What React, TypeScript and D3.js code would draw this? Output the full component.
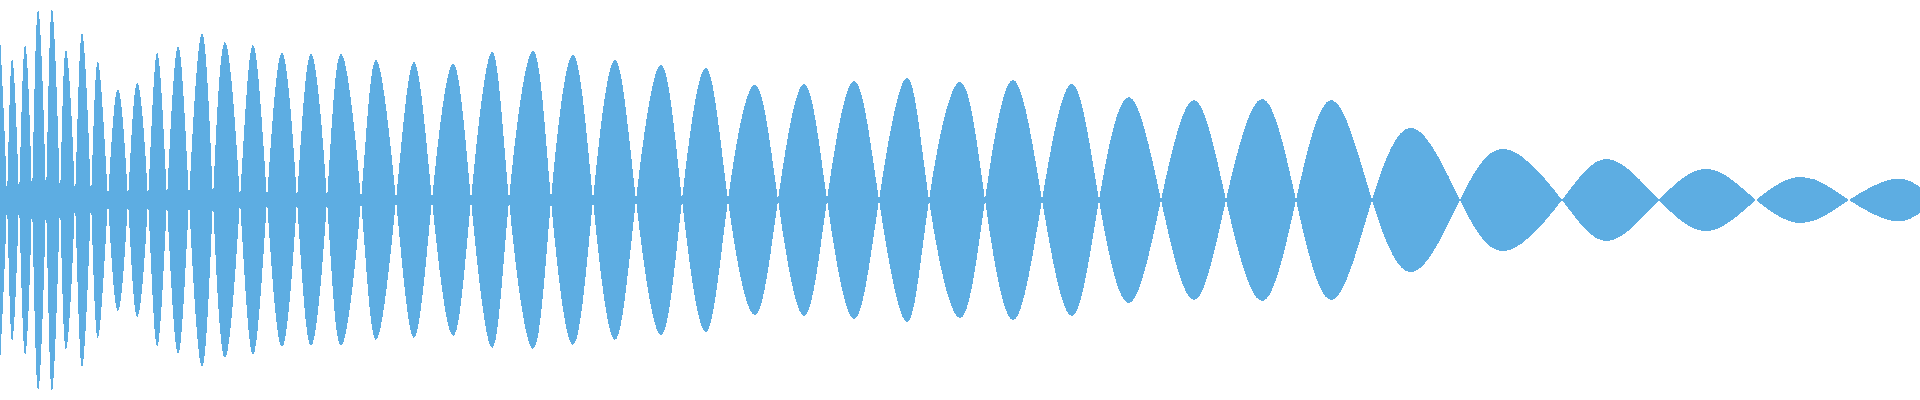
import React from "react";
import * as d3 from "d3";

// Sample positions (sample index) of zero crossings and lobe peaks
const samplePos = [
  0, 7, 12, 19, 25, 32, 38, 46, 52, 60, 66, 75, 82, 91, 98, 108, 118, 128, 137, 148,
  157, 167, 178, 189, 202, 213, 225, 240, 253, 267, 282, 297, 311, 327, 341, 361,
  376, 396, 414, 432, 453, 471, 492, 509, 533, 551, 573, 593, 615, 636, 661, 682,
  706, 728, 755, 778, 804, 827, 854, 879, 907, 929, 960, 985, 1013, 1042, 1072,
  1099, 1129, 1161, 1194, 1226, 1262, 1296, 1332, 1372, 1413, 1460, 1505,
  1562, 1608, 1659, 1708, 1756, 1803, 1849, 1893, 1920,
];

// Signed amplitude (percent of full scale) at each sample position
const amplitude = [
  82.5, 0, -70.5, 0, 77.5, 0, -95, 0, 95.5, 0, -75, 0, 83.5, 0, -69, 0, 55.5, 0, -58.5, 0,
  73.5, 0, -77, 0, 83.5, 0, -79, 0, 77.5, 0, -73.5, 0, 73, 0, -73, 0,
  70, 0, -69, 0, 68, 0, -74, 0, 74.5, 0, -72.5, 0, 70, 0, -67.5, 0,
  66, 0, -57.5, 0, 58, 0, -59.5, 0, 61, 0, -59, 0, 60, 0, -58,
  0, 51.5, 0, -50, 0, 50.5, 0, -50, 0, 36, 0, -25.5,
  0, 20.5, 0, -15.5, 0, 11.5, 0, -10.5, -6.5,
];

// Residual high-frequency band around the centre line in the dense early part
const floorPos = [0, 240, 330, 400, 460];
const floorAmp = [4, 4, 3, 1.5, 0];

const WIDTH = 1920;
const HEIGHT = 400;
const COLOR = "#5DADE2";

export default function App() {
  const x = d3.scaleLinear().domain([0, 1920]).range([0, WIDTH]);
  const y = d3.scaleLinear().domain([-100, 100]).range([HEIGHT, 0]);

  const idx = d3.range(samplePos.length);
  const area = d3
    .area<number>()
    .x((i) => x(samplePos[i]))
    .y0((i) => y(-amplitude[i]))
    .y1((i) => y(amplitude[i]))
    .curve(d3.curveNatural);

  const fIdx = d3.range(floorPos.length);
  const floorArea = d3
    .area<number>()
    .x((i) => x(floorPos[i]))
    .y0((i) => y(-floorAmp[i]))
    .y1((i) => y(floorAmp[i]));

  return (
    <svg
      width={WIDTH}
      height={HEIGHT}
      style={{ position: "absolute", left: 0, top: 0, display: "block", background: "#fff" }}
    >
      <path d={floorArea(fIdx) || ""} fill={COLOR} stroke="none" shapeRendering="crispEdges" />
      <path d={area(idx) || ""} fill={COLOR} stroke="none" shapeRendering="crispEdges" />
    </svg>
  );
}
